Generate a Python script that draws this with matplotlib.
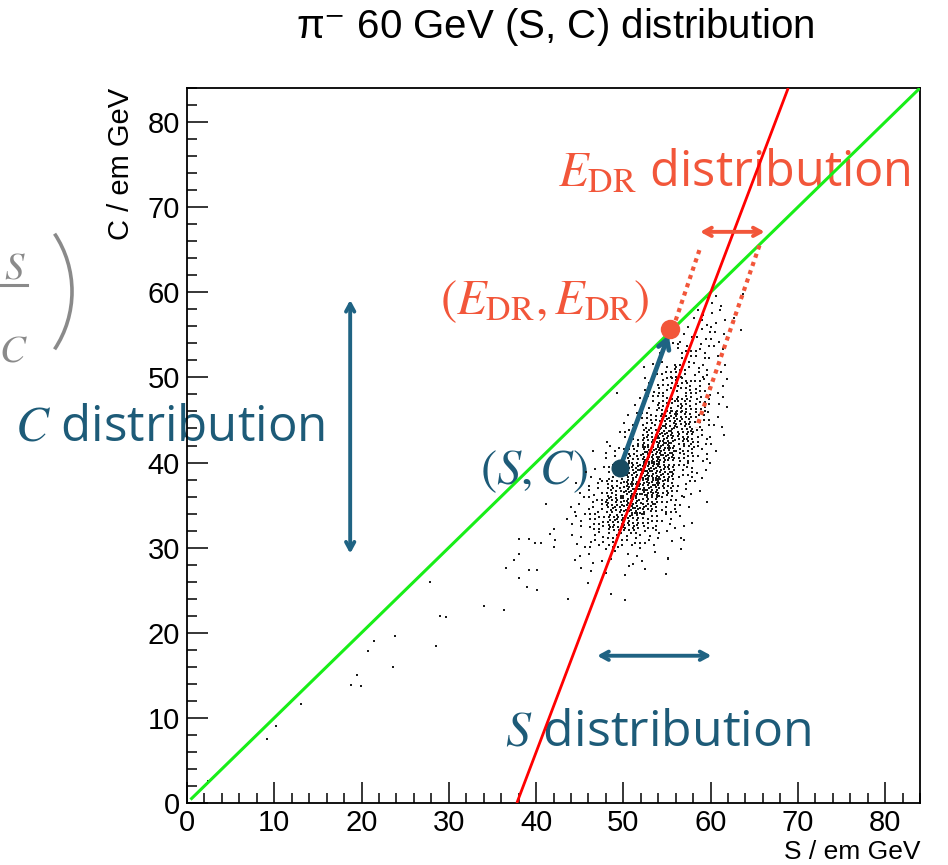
import numpy as np
import matplotlib
matplotlib.use("Agg")
import matplotlib.pyplot as plt
from matplotlib.ticker import MultipleLocator
from matplotlib.patches import Arc
from matplotlib.lines import Line2D

ROOT_FONT = ["Liberation Sans", "DejaVu Sans"]
plt.rcParams["font.family"] = ROOT_FONT
plt.rcParams["mathtext.fontset"] = "stix"

# ---------------- data ----------------
# 2D histogram of (S, C) events, 2 GeV x 2 GeV bins
s_edges = np.arange(36, 68, 2)          # 36 ... 66
c_edges = np.arange(28, 62, 2)          # 28 ... 60
# rows: C bins from 28-30 (first) up to 58-60 (last); columns: S bins 36-38 ... 64-66
counts = [
    [0, 0, 0, 0, 1, 3, 3, 3, 2, 1, 1, 0, 0, 0, 0],    # 28-30
    [0, 0, 0, 1, 4, 8, 12, 10, 6, 3, 1, 0, 0, 0, 0],  # 30-32
    [0, 0, 0, 2, 5, 13, 25, 24, 14, 5, 2, 0, 0, 0, 0],  # 32-34
    [0, 0, 0, 1, 3, 10, 24, 34, 24, 11, 4, 1, 0, 0, 0],  # 34-36
    [0, 0, 0, 0, 2, 7, 18, 36, 34, 19, 7, 2, 0, 0, 0],  # 36-38
    [0, 0, 0, 0, 1, 4, 11, 28, 38, 28, 11, 4, 0, 0, 0],  # 38-40
    [0, 0, 0, 0, 0, 2, 6, 17, 33, 33, 17, 6, 1, 0, 0],  # 40-42
    [0, 0, 0, 0, 0, 0, 2, 9, 23, 32, 23, 9, 2, 0, 0],   # 42-44
    [0, 0, 0, 0, 0, 0, 0, 4, 14, 25, 23, 11, 3, 0, 0],  # 44-46
    [0, 0, 0, 0, 0, 0, 0, 2, 8, 16, 19, 12, 3, 0, 0],   # 46-48
    [0, 0, 0, 0, 0, 0, 0, 0, 5, 12, 15, 10, 3, 0, 0],   # 48-50
    [0, 0, 0, 0, 0, 0, 0, 0, 3, 8, 11, 8, 2, 0, 0],     # 50-52
    [0, 0, 0, 0, 0, 0, 0, 0, 0, 3, 8, 8, 3, 0, 0],      # 52-54
    [0, 0, 0, 0, 0, 0, 0, 0, 0, 0, 4, 5, 4, 1, 0],      # 54-56
    [0, 0, 0, 0, 0, 0, 0, 0, 0, 0, 0, 5, 4, 1, 0],      # 56-58
    [0, 0, 0, 0, 0, 0, 0, 0, 0, 0, 0, 2, 3, 1, 0],      # 58-60
]

# isolated events outside the dense core
tail_s = [2.4, 9.2, 10.2, 13.1, 18.8, 19.9, 19.5, 23.6, 20.7, 21.4, 23.8, 28.5,
          29.0, 29.7, 27.8, 34.0, 36.3, 36.6, 37.5, 38.0, 38.0, 39.2, 39.9, 40.6,
          41.6, 42.0, 39.2, 40.1, 38.0, 39.0, 40.1, 43.7, 41.1, 45.2, 46.3, 46.0,
          48.6, 50.2, 50.2, 50.6, 54.9, 55.1, 57.0, 57.9, 58.6, 49.3, 44.5, 48.0,
          52.5]
tail_c = [2.6, 7.5, 9.0, 11.6, 13.9, 13.8, 15.0, 16.0, 17.8, 19.0, 19.6, 18.5,
          22.0, 21.8, 26.0, 23.2, 22.7, 27.6, 28.5, 29.2, 31.0, 31.0, 30.5, 30.5,
          31.6, 30.1, 27.4, 27.4, 26.4, 25.4, 25.0, 24.0, 35.1, 27.6, 27.2, 25.8,
          24.5, 23.9, 26.8, 27.8, 26.9, 28.8, 30.9, 32.9, 41.9, 48.2, 28.5, 27.0,
          27.5]

# reference lines
equal_s = [0.4, 84.0]            # C = S
equal_c = [0.4, 84.0]
chi_s = [37.8, 68.9]             # line through the beam-energy point
chi_c = [0.0, 84.0]

# points and markers
point_sc = (49.6, 39.3)
point_edr = (55.4, 55.7)
edr_band_left_s = [56.0, 58.8]
edr_band_left_c = [56.7, 65.2]
edr_band_right_s = [65.6, 58.4]
edr_band_right_c = [65.5, 44.1]

# spread arrows
c_arrow_s, c_arrow_c = 18.7, (59.1, 29.3)
s_arrow_c, s_arrow_s = 17.3, (47.0, 60.1)
edr_arrow_c, edr_arrow_s = 67.1, (58.8, 66.2)

x_ticks = [0, 10, 20, 30, 40, 50, 60, 70, 80]
y_ticks = [0, 10, 20, 30, 40, 50, 60, 70, 80]

ORANGE = "#F2563A"
BLUE_TXT = "#1D5B78"
BLUE_ARR = "#1F6383"
BLUE_DOT = "#184B61"
GREY = "#8A8A8A"

# ---------------- figure ----------------
W, H = 948, 865
fig = plt.figure(figsize=(W / 100, H / 100), dpi=100)
ax = fig.add_axes([187 / W, 62 / H, (920 - 187) / W, (803 - 88) / H])
ax.set_xlim(0, 84)
ax.set_ylim(0, 84)

# scatter points: each bin filled with its count, spread with a quasi-uniform sequence
g = 1.32471795724474602596
a1, a2 = 1.0 / g, 1.0 / g ** 2
pts_s, pts_c = [], []
k = 0
for i, row in enumerate(counts):
    for j, n in enumerate(row):
        for _ in range(n):
            u = (0.5 + a1 * k) % 1.0
            v = (0.5 + a2 * k) % 1.0
            k += 1
            pts_s.append(s_edges[j] + 2.0 * u)
            pts_c.append(c_edges[i] + 2.0 * v)
pts_s = np.array(pts_s + tail_s)
pts_c = np.array(pts_c + tail_c)
ax.scatter(pts_s, pts_c, s=0.9, marker="s", color="#1a1a1a", linewidths=0, zorder=2)

ax.plot(equal_s, equal_c, color="#18ee18", lw=2.2, zorder=3, solid_capstyle="butt")
ax.plot(chi_s, chi_c, color="#ff0000", lw=2.0, zorder=3, solid_capstyle="butt")

# frame and ticks
for sp in ["left", "bottom", "top", "right"]:
    ax.spines[sp].set_linewidth(1.3)
ax.xaxis.set_minor_locator(MultipleLocator(2))
ax.yaxis.set_minor_locator(MultipleLocator(2))
ax.set_xticks(x_ticks)
ax.set_yticks(y_ticks)
ax.tick_params(which="both", direction="in", top=False, right=False, width=1.1)
ax.tick_params(which="major", length=15, labelsize=21)
ax.tick_params(which="minor", length=7.5)
ax.tick_params(axis="x", pad=4)
ax.tick_params(axis="y", pad=5)

fig.text(920 / W, 1 - 864 / H, "S / em GeV", ha="right", va="bottom", fontsize=19)
fig.text(121 / W, 1 - 88 / H, "C / em GeV", ha="center", va="top", rotation=90,
         fontsize=21)
fig.text(555 / W, 1 - 27 / H, "\u03c0$^{-}$ 60 GeV (S, C) distribution",
         ha="center", va="center", fontsize=29)

# E_DR band (dotted) and arrows
ax.plot(edr_band_left_s, edr_band_left_c, color=ORANGE, lw=3.0,
        ls=(0, (1.0, 1.1)), zorder=4)
ax.plot(edr_band_right_s, edr_band_right_c, color=ORANGE, lw=3.0,
        ls=(0, (1.0, 1.1)), zorder=4)


def double_arrow(p0, p1, color, lw):
    ax.annotate("", xy=p1, xytext=p0,
                arrowprops=dict(arrowstyle="<->,head_length=0.55,head_width=0.3",
                                color=color, lw=lw, shrinkA=0, shrinkB=0),
                zorder=5, annotation_clip=False)


double_arrow((c_arrow_s, c_arrow_c[0]), (c_arrow_s, c_arrow_c[1]), BLUE_ARR, 2.8)
double_arrow((s_arrow_s[0], s_arrow_c), (s_arrow_s[1], s_arrow_c), BLUE_ARR, 2.8)
double_arrow((edr_arrow_s[0], edr_arrow_c), (edr_arrow_s[1], edr_arrow_c), ORANGE, 2.8)

ax.annotate("", xy=(point_edr[0] - 0.2, point_edr[1] - 0.7), xytext=point_sc,
            arrowprops=dict(arrowstyle="->,head_length=0.7,head_width=0.4",
                            color=BLUE_ARR, lw=3.4, shrinkA=0, shrinkB=0),
            zorder=5)
ax.plot(*point_sc, "o", ms=13, color=BLUE_DOT, mec="none", zorder=6)
ax.plot(*point_edr, "o", ms=14, color=ORANGE, mec="none", zorder=6)

# annotations
TXT_FONT = ["Open Sans", "DejaVu Sans"]
ax.text(42.5, 72.4, r"$E_{\mathrm{DR}}$ distribution", color=ORANGE, fontsize=35,
        family=TXT_FONT, ha="left", va="baseline", zorder=1, clip_on=False)
ax.text(29.0, 57.4, r"$(E_{\mathrm{DR}}, E_{\mathrm{DR}})$", color=ORANGE,
        fontsize=35, ha="left", va="baseline", zorder=1, clip_on=False)
ax.text(-19.7, 42.6, r"$C$ distribution", color=BLUE_TXT, fontsize=35.5,
        family=TXT_FONT, ha="left", va="baseline", zorder=1, clip_on=False)
ax.text(33.6, 37.4, r"$(S, C)$", color=BLUE_TXT, fontsize=35,
        ha="left", va="baseline", zorder=1, clip_on=False)
ax.text(36.4, 6.7, r"$S$ distribution", color=BLUE_TXT, fontsize=36,
        family=TXT_FONT, ha="left", va="baseline", zorder=1, clip_on=False)

# partial ratio term at the left margin
fig.text(15 / W, 1 - 268 / H, r"$S$", color=GREY, fontsize=28, ha="center",
         va="center")
fig.text(13 / W, 1 - 352 / H, r"$C$", color=GREY, fontsize=28, ha="center",
         va="center")
fig.add_artist(Line2D([0, 27 / W], [1 - 285 / H, 1 - 285 / H], color=GREY,
                      lw=2.2, transform=fig.transFigure))
R = 104.6
fig.add_artist(Arc((-32.6 / W, 1 - 291.5 / H), 2 * R / W, 2 * R / H,
                   theta1=-36, theta2=36, color=GREY, lw=2.6,
                   transform=fig.transFigure))

fig.savefig("out.png", dpi=100)
